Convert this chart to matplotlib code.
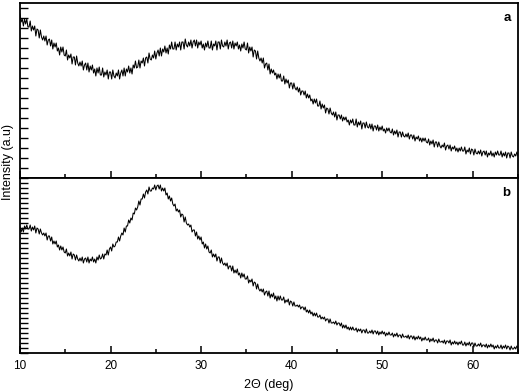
import numpy as np
import matplotlib
matplotlib.use("Agg")
import matplotlib.pyplot as plt
from matplotlib.ticker import MultipleLocator, NullFormatter

plt.rcParams['font.family'] = ['Liberation Sans', 'DejaVu Sans']

# 2theta grid, 10..65 deg every 0.125 deg (8 readings per degree)
two_theta = np.arange(10, 65.0001, 0.125)

# pattern (a), arbitrary units, one row per degree
int_a = [
    164, 156, 159, 152, 159, 154, 159, 151,  # 10
    151, 157, 147, 152, 148, 152, 142, 149,
    148, 140, 148, 141, 138, 142, 137, 142,
    133, 138, 139, 132, 138, 129, 135, 131,
    135, 127, 130, 123, 131, 126, 131, 123,
    122, 128, 118, 123, 120, 124, 114, 121,  # 15
    121, 113, 122, 115, 112, 116, 112, 117,
    108, 113, 115, 108, 115, 106, 112, 108,
    113, 105, 109, 102, 110, 105, 111, 103,
    103, 110, 101, 106, 103, 108, 99, 106,
    106, 99, 108, 102, 100, 105, 102, 108,  # 20
    99, 105, 108, 102, 110, 102, 109, 106,
    112, 105, 110, 104, 113, 110, 117, 110,
    111, 118, 110, 117, 115, 120, 112, 120,
    121, 115, 125, 119, 118, 123, 120, 127,
    119, 125, 128, 122, 130, 122, 129, 126,  # 25
    132, 125, 130, 124, 133, 129, 136, 129,
    129, 136, 128, 134, 131, 136, 128, 136,
    136, 129, 139, 133, 131, 136, 132, 138,
    130, 136, 138, 132, 138, 130, 136, 133,
    137, 130, 134, 128, 135, 131, 137, 130,  # 30
    130, 137, 128, 134, 132, 137, 128, 136,
    136, 129, 138, 132, 131, 136, 132, 138,
    129, 135, 136, 130, 137, 129, 135, 132,
    136, 129, 133, 127, 134, 130, 136, 129,
    128, 135, 125, 131, 127, 131, 121, 128,  # 35
    127, 119, 127, 120, 117, 120, 115, 120,
    110, 114, 115, 108, 114, 104, 109, 105,
    108, 103, 105, 99, 104, 100, 104, 97,
    97, 102, 94, 99, 95, 98, 90, 95,
    95, 89, 95, 90, 88, 91, 86, 90,  # 40
    83, 87, 87, 83, 87, 80, 84, 80,
    83, 77, 79, 74, 79, 75, 79, 72,
    72, 77, 69, 74, 70, 73, 65, 70,
    69, 64, 70, 65, 63, 66, 61, 66,
    58, 63, 63, 59, 63, 57, 61, 58,  # 45
    61, 56, 58, 53, 58, 55, 59, 53,
    53, 59, 51, 56, 53, 57, 49, 55,
    55, 50, 56, 51, 50, 54, 49, 54,
    47, 52, 52, 48, 53, 47, 51, 48,
    52, 47, 49, 45, 50, 47, 50, 46,  # 50
    45, 49, 43, 47, 44, 48, 41, 46,
    46, 41, 46, 42, 41, 44, 41, 45,
    39, 43, 43, 39, 43, 37, 41, 39,
    42, 37, 40, 36, 40, 37, 40, 36,
    35, 39, 33, 37, 34, 38, 31, 36,  # 55
    36, 31, 36, 32, 30, 33, 31, 35,
    28, 32, 33, 29, 33, 27, 31, 29,
    32, 27, 30, 26, 30, 27, 31, 27,
    27, 31, 24, 28, 26, 30, 24, 29,
    28, 23, 29, 25, 24, 27, 24, 28,  # 60
    22, 26, 27, 23, 27, 21, 25, 23,
    27, 22, 25, 21, 26, 23, 27, 23,
    23, 27, 21, 25, 22, 26, 20, 25,
    25, 20, 26, 22, 21, 24, 22, 26,
    22,  # 65
]

# pattern (b)
int_b = [
    126, 121, 125, 121, 127, 124, 128, 124,  # 10
    124, 128, 122, 126, 123, 127, 120, 125,
    124, 119, 124, 120, 118, 120, 117, 120,
    113, 117, 117, 112, 116, 109, 112, 109,
    112, 106, 108, 103, 107, 103, 106, 101,
    100, 104, 97, 100, 97, 101, 94, 99,  # 15
    98, 93, 98, 94, 92, 95, 92, 96,
    90, 94, 95, 91, 96, 90, 94, 92,
    96, 91, 94, 90, 96, 93, 98, 94,
    95, 99, 94, 99, 98, 103, 98, 104,
    106, 102, 109, 106, 107, 111, 111, 116,  # 20
    112, 117, 120, 118, 125, 121, 127, 127,
    133, 130, 135, 133, 140, 139, 145, 143,
    146, 152, 148, 154, 154, 159, 155, 161,
    163, 159, 166, 162, 162, 165, 164, 168,
    163, 167, 168, 164, 168, 162, 165, 162,  # 25
    165, 158, 160, 154, 157, 152, 155, 149,
    147, 149, 142, 144, 141, 143, 136, 139,
    138, 131, 136, 130, 128, 129, 126, 128,
    121, 123, 123, 117, 121, 114, 117, 113,
    116, 109, 111, 105, 109, 104, 107, 101,  # 30
    100, 103, 96, 99, 96, 99, 92, 96,
    96, 90, 95, 90, 88, 90, 87, 90,
    84, 87, 87, 82, 87, 80, 83, 80,
    84, 78, 80, 75, 80, 76, 79, 74,
    74, 77, 70, 73, 71, 74, 67, 71,  # 35
    70, 64, 69, 64, 62, 64, 61, 64,
    58, 61, 62, 57, 62, 55, 59, 56,
    60, 54, 57, 52, 57, 53, 57, 53,
    53, 56, 50, 53, 51, 54, 48, 52,
    51, 47, 51, 47, 47, 48, 46, 48,  # 40
    44, 46, 46, 43, 46, 41, 43, 40,
    43, 39, 41, 37, 40, 37, 40, 36,
    36, 38, 34, 36, 34, 36, 32, 34,
    34, 30, 34, 30, 30, 31, 29, 32,
    28, 30, 30, 27, 30, 25, 28, 25,  # 45
    28, 24, 26, 23, 26, 23, 26, 23,
    23, 25, 21, 24, 22, 24, 20, 23,
    23, 20, 24, 20, 20, 22, 20, 23,
    19, 22, 22, 19, 22, 18, 21, 19,
    22, 19, 21, 17, 20, 18, 21, 18,  # 50
    18, 20, 16, 19, 17, 20, 16, 18,
    18, 15, 19, 16, 16, 17, 15, 18,
    14, 17, 17, 14, 17, 13, 16, 14,
    17, 14, 16, 12, 15, 13, 16, 13,
    13, 15, 11, 14, 12, 15, 11, 13,  # 55
    13, 10, 14, 11, 11, 12, 10, 13,
    9, 12, 12, 10, 13, 8, 11, 9,
    12, 9, 11, 8, 11, 9, 12, 8,
    8, 11, 7, 10, 8, 11, 7, 10,
    10, 6, 10, 7, 7, 9, 7, 10,  # 60
    6, 8, 8, 6, 9, 5, 8, 6,
    9, 6, 8, 4, 7, 5, 8, 5,
    5, 8, 4, 7, 5, 8, 4, 7,
    6, 3, 7, 4, 4, 6, 4, 7,
    5,  # 65
]

fig = plt.figure(figsize=(5.2, 3.92), dpi=100)
ax1 = fig.add_axes([20/520, 1-178/392, 498/520, 175/392])
ax2 = fig.add_axes([20/520, 1-353/392, 498/520, 175/392], sharex=ax1)

for ax, y, lab, ytick in [(ax1, int_a, 'a', 10), (ax2, int_b, 'b', 5)]:
    ax.plot(two_theta, y, color='black', lw=0.75)
    ax.set_xlim(10, 65)
    ax.set_ylim(0, 175)
    ax.xaxis.set_major_locator(MultipleLocator(10))
    ax.xaxis.set_minor_locator(MultipleLocator(5))
    ax.yaxis.set_major_locator(MultipleLocator(ytick))
    ax.yaxis.set_major_formatter(NullFormatter())
    ax.tick_params(axis='x', which='major', direction='in', length=5, width=1.1, labelsize=8.5, pad=5)
    ax.tick_params(axis='x', which='minor', direction='in', length=3, width=1.1)
    ax.tick_params(axis='y', which='major', direction='in', length=6, width=1)
    for s in ax.spines.values():
        s.set_linewidth(1.3)
    ax.text(0.985, 0.95, lab, transform=ax.transAxes, ha='right', va='top',
            fontsize=9.5, fontweight='bold')

plt.setp(ax1.get_xticklabels(), visible=False)
ax2.set_xlabel('2Θ (deg)', fontsize=9, labelpad=5)
fig.text(8/520, 1-162/392, 'Intensity (a.u)', rotation=90, ha='center', va='center', fontsize=9)

fig.savefig('out.png', dpi=100)
